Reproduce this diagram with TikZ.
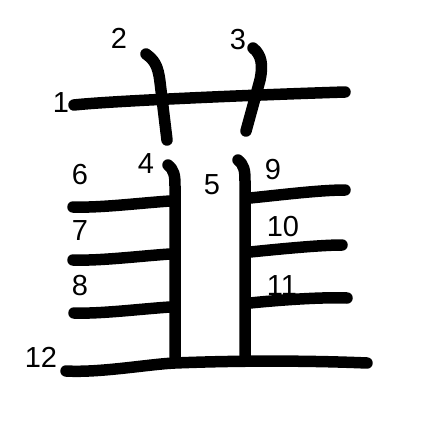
\documentclass[tikz,border=0pt]{standalone}
\usepackage{fontspec}
\setmainfont{Liberation Sans}
\begin{document}
\begin{tikzpicture}[x=1pt,y=-1pt,
  stroke/.style={line width=11.5pt,line cap=round,line join=round,black},
  num/.style={inner sep=0pt,font=\fontsize{29}{29}\selectfont}]
\useasboundingbox (0,0) rectangle (447,447);
% strokes
\draw[stroke] (74,105) .. controls (110,101) and (250,95) .. (345,92);
\draw[stroke] (146,54) .. controls (154,60) and (158,65) .. (160,82) -- (167,140);
\draw[stroke] (253,48) .. controls (262,55) and (263,66) .. (260,80) -- (246,131);
\draw[stroke] (168,165) .. controls (174,170) and (175,175) .. (175,186) -- (175,362);
\draw[stroke] (238,160) .. controls (244,165) and (245,170) .. (245,181) -- (245,358);
\draw[stroke] (73,207) .. controls (100,208) and (140,203) .. (170,201);
\draw[stroke] (73,260) .. controls (100,261) and (140,256) .. (170,254);
\draw[stroke] (74,313) .. controls (100,314) and (140,309) .. (170,307);
\draw[stroke] (250,198) .. controls (280,195) and (320,190) .. (345,190);
\draw[stroke] (250,252) .. controls (280,249) and (320,245) .. (342,245);
\draw[stroke] (250,303) .. controls (280,300) and (320,297) .. (347,298);
\draw[stroke] (66,371) .. controls (100,373) and (150,364) .. (175,363) .. controls (250,360) and (320,361) .. (367,363);
% labels
\node[num] (n1) at (61,103) {1};
\node[num] (n2) at (119,38) {2};
\node[num] (n3) at (238,40) {3};
\node[num] (n4) at (146,164) {4};
\node[num] (n5) at (212,185) {5};
\node[num] (n6) at (80,175) {6};
\node[num] (n7) at (80,231) {7};
\node[num] (n8) at (80,286) {8};
\node[num] (n9) at (273,170) {9};
\node[num] (n10) at (283,227) {10};
\node[num] (n11) at (282,286) {11};
\node[num] (n12) at (41,357) {12};
\end{tikzpicture}
\end{document}
